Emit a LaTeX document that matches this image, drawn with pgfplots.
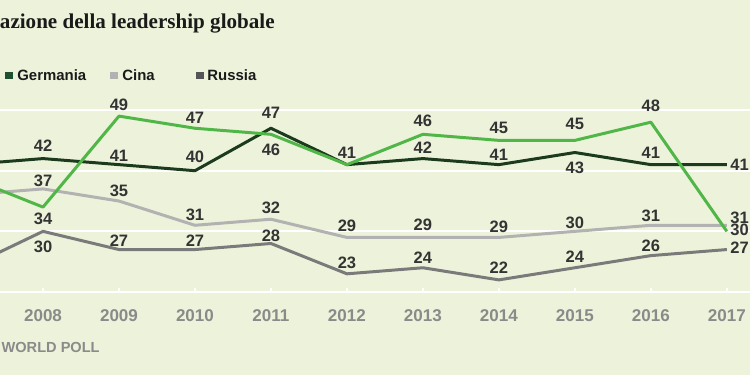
\documentclass[border=0pt]{standalone}
\usepackage{pgfplots}
\pgfplotsset{compat=1.18}
\usepackage{fontspec}
\setmainfont{Liberation Sans}
\newfontfamily\titlefont{Liberation Serif}
\definecolor{bgc}{RGB}{236,243,218}
\definecolor{usc}{RGB}{80,182,72}
\definecolor{gerc}{RGB}{27,58,30}
\definecolor{chic}{RGB}{178,178,178}
\definecolor{rusc}{RGB}{122,122,122}
\definecolor{lblc}{RGB}{51,51,51}
\definecolor{tickc}{RGB}{138,138,138}
\definecolor{gersq}{RGB}{31,80,50}
\definecolor{russq}{RGB}{85,85,88}
\definecolor{titc}{RGB}{26,26,26}
\pgfplotsset{
  lbls/.style={
    mark=none,
    nodes near coords,
    point meta=explicit symbolic,
    visualization depends on={value \thisrow{a} \as \anc},
    visualization depends on={\thisrow{dx} \as \dx},
    visualization depends on={\thisrow{dy} \as \dy},
    every node near coord/.append style={anchor=\anc, xshift=\dx*0.02cm, yshift=\dy*0.02cm,
      inner sep=0pt, text=lblc, font=\bfseries\fontsize{9.4}{11}\selectfont},
  }
}
\begin{document}
\begin{tikzpicture}[x=0.02cm,y=0.02cm]
\useasboundingbox (0,0) rectangle (750,375);
\clip (0,0) rectangle (750,375);
\fill[bgc] (0,0) rectangle (750,375);
% title
\node[anchor=base east, inner sep=0pt, text=titc] at (275,346.7)
  {\titlefont\bfseries\fontsize{12}{14}\selectfont Approvazione della leadership globale};
% legend
\fill[gersq] (5,295.7) rectangle (12.7,303.3);
\node[anchor=west, inner sep=0pt, text=titc] at (17,299.5) {\bfseries\fontsize{8.5}{10}\selectfont Germania};
\fill[chic] (110,295.7) rectangle (118,303.3);
\node[anchor=west, inner sep=0pt, text=titc] at (122,299.5) {\bfseries\fontsize{8.5}{10}\selectfont Cina};
\fill[russq] (196,295.7) rectangle (204,303.3);
\node[anchor=west, inner sep=0pt, text=titc] at (207,299.5) {\bfseries\fontsize{8.5}{10}\selectfont Russia};
% source
\node[anchor=east, inner sep=0pt, text=tickc] at (100,27.3) {\bfseries\fontsize{8.3}{10}\selectfont GALLUP WORLD POLL};
\begin{axis}[
  at={(0cm,1.66cm)}, anchor=south west, scale only axis,
  width=15cm, height=3.64cm,
  xmin=2007.434, xmax=2017.303, ymin=20, ymax=50,
  clip=false,
  axis line style={draw=none},
  ytick={20,30,40,50}, yticklabels={}, ymajorgrids, ytick style={draw=none},
  grid style={white, line width=1.2pt},
  xtick={2008,2009,2010,2011,2012,2013,2014,2015,2016,2017},
  xticklabels={2008,2009,2010,2011,2012,2013,2014,2015,2016,2017},
  xtick pos=lower, tick align=inside, major tick length=0.08cm,
  xtick style={white, line width=0.8pt},
  xticklabel style={anchor=center, yshift=-0.47cm, text=tickc, font=\bfseries\fontsize{9.7}{11}\selectfont},
  every axis plot/.append style={line width=1.7pt, line join=round},
]
\addplot[rusc, lbls] table[x=x, y=y, meta=l] {
x y l a dx dy
2007 24 {} center 0 0
2008 30 30 center 0 -15
2009 27 27 center 0 8.5
2010 27 27 center 0 8.5
2011 28 28 center 0 7.5
2012 23 23 center 0 11.3
2013 24 24 center 0 10.2
2014 22 22 center 0 12
2015 24 24 center 0 11
2016 26 26 center 0 9.6
2017 27 27 west 2 1.5
};
\addplot[chic, lbls] table[x=x, y=y, meta=l] {
x y l a dx dy
2007 36 {} center 0 0
2008 37 37 center 0 8
2009 35 35 center 0 10
2010 31 31 center 0 10
2011 32 32 center 0 11.7
2012 29 29 center 0 11.4
2013 29 29 center 0 13
2014 29 29 center 0 11
2015 30 30 center 0 9
2016 31 31 center 0 9
2017 31 31 west 2 7
};
\addplot[gerc, lbls] table[x=x, y=y, meta=l] {
x y l a dx dy
2007 41 {} center 0 0
2008 42 42 center 0 12.5
2009 41 41 center 0 8.6
2010 40 40 center 0 13.7
2011 47 47 center 0 15
2012 41 41 center 0 12
2013 42 42 center 0 11
2014 41 41 center 0 10
2015 43 43 center 0 -15
2016 41 41 center 0 12
2017 41 41 west 2 0
};
\addplot[usc, lbls] table[x=x, y=y, meta=l] {
x y l a dx dy
2007 39 {} center 0 0
2008 34 34 center 0 -11.5
2009 49 49 center 0 11
2010 47 47 center 0 10.7
2011 46 46 center 0 -15
2012 41 {} center 0 0
2013 46 46 center 0 13
2014 45 45 center 0 12
2015 45 45 center 0 16
2016 48 48 center 0 16
2017 30 30 west 2 2
};
\end{axis}
\end{tikzpicture}
\end{document}
